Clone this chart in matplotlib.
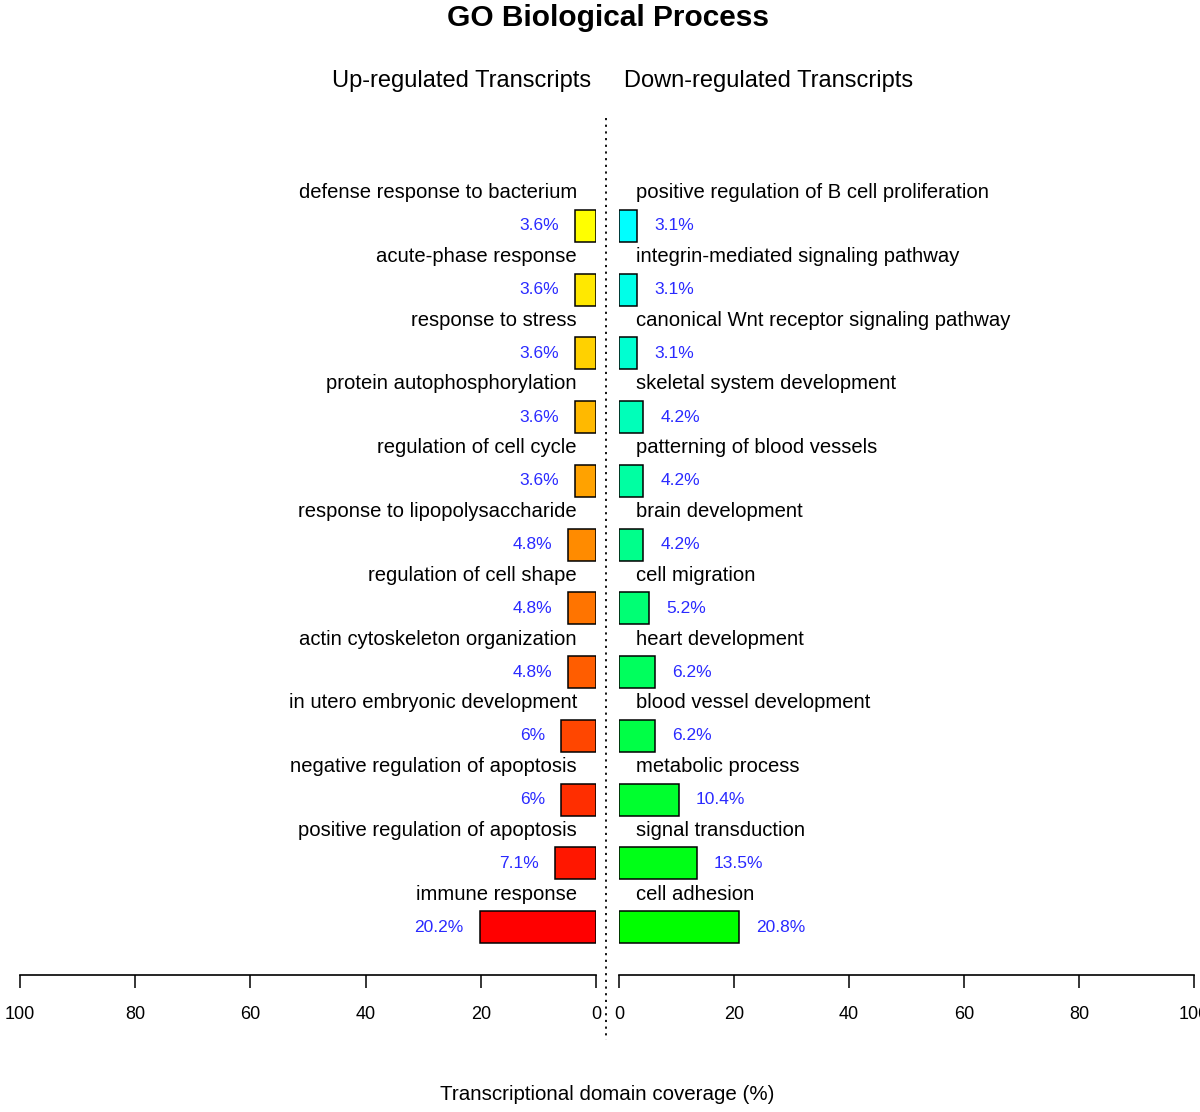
import colorsys
import matplotlib
matplotlib.use("Agg")
from matplotlib import pyplot as plt
from matplotlib.lines import Line2D

plt.rcParams['font.family'] = ['Liberation Sans', 'DejaVu Sans']

up_terms = ["defense response to bacterium", "acute-phase response", "response to stress",
            "protein autophosphorylation", "regulation of cell cycle",
            "response to lipopolysaccharide", "regulation of cell shape",
            "actin cytoskeleton organization", "in utero embryonic development",
            "negative regulation of apoptosis", "positive regulation of apoptosis",
            "immune response"]
up_values = [3.6, 3.6, 3.6, 3.6, 3.6, 4.8, 4.8, 4.8, 6, 6, 7.1, 20.2]
up_labels = ["3.6%", "3.6%", "3.6%", "3.6%", "3.6%", "4.8%", "4.8%", "4.8%",
             "6%", "6%", "7.1%", "20.2%"]

down_terms = ["positive regulation of B cell proliferation", "integrin-mediated signaling pathway",
              "canonical Wnt receptor signaling pathway", "skeletal system development",
              "patterning of blood vessels", "brain development", "cell migration",
              "heart development", "blood vessel development", "metabolic process",
              "signal transduction", "cell adhesion"]
down_values = [3.1, 3.1, 3.1, 4.2, 4.2, 4.2, 5.2, 6.2, 6.2, 10.4, 13.5, 20.8]
down_labels = ["3.1%", "3.1%", "3.1%", "4.2%", "4.2%", "4.2%", "5.2%", "6.2%",
               "6.2%", "10.4%", "13.5%", "20.8%"]

ticks = [0, 20, 40, 60, 80, 100]

W, H = 1200, 1112
fig = plt.figure(figsize=(W / 100, H / 100), dpi=100)

n = len(up_terms)
pos = list(range(n))
# rainbow hues: yellow -> red on the left, cyan -> green on the right
up_colors = [colorsys.hsv_to_rgb((60 - 60 * i / (n - 1)) / 360, 1, 1) for i in pos]
down_colors = [colorsys.hsv_to_rgb((180 - 60 * i / (n - 1)) / 360, 1, 1) for i in pos]

bottom = 1 - 975 / H
top = 1 - 150 / H
ax_l = fig.add_axes([20 / W, bottom, 576 / W, top - bottom])
ax_r = fig.add_axes([619 / W, bottom, 575 / W, top - bottom])

for ax, vals, terms, labs, cols, side in [
        (ax_l, up_values, up_terms, up_labels, up_colors, "left"),
        (ax_r, down_values, down_terms, down_labels, down_colors, "right")]:
    ax.barh(pos, vals, height=0.5, color=cols, edgecolor="black", linewidth=1.1)
    for i in pos:
        if side == "left":
            ax.text(3.3, i - 0.52, terms[i], ha="right", va="center", fontsize=14.6)
            ax.text(vals[i] + 2.8, i, labs[i], ha="right", va="center", fontsize=12.5,
                    color="#2a2aff")
        else:
            ax.text(3.0, i - 0.52, terms[i], ha="left", va="center", fontsize=14.6)
            ax.text(vals[i] + 3, i, labs[i], ha="left", va="center", fontsize=12.5,
                    color="#2a2aff")
    ax.set_ylim(11.75, -1.19)
    if side == "left":
        ax.set_xlim(100, 0)
    else:
        ax.set_xlim(0, 100)
    for s in ["top", "left", "right"]:
        ax.spines[s].set_visible(False)
    ax.spines["bottom"].set_bounds(0, 100)
    ax.spines["bottom"].set_linewidth(1.2)
    ax.set_yticks([])
    ax.set_xticks(ticks)
    ax.tick_params(axis="x", length=9, width=1.1, pad=13, labelsize=13)
    ax.patch.set_alpha(0)

fig.add_artist(Line2D([606 / W, 606 / W], [1 - 118 / H, 1 - 1040 / H],
                      transform=fig.transFigure, color="black", linestyle=(0, (1.2, 2.5)),
                      linewidth=1.3))

fig.text(608 / W, 1 - 18 / H, "GO Biological Process", ha="center", va="center",
         fontsize=21.5, fontweight="bold")
fig.text(462 / W, 1 - 81 / H, "Up-regulated Transcripts", ha="center", va="center", fontsize=17)
fig.text(769 / W, 1 - 81 / H, "Down-regulated Transcripts", ha="center", va="center", fontsize=17)
fig.text(607 / W, 1 - 1095 / H, "Transcriptional domain coverage (%)", ha="center",
         va="center", fontsize=14.8)

plt.savefig("out.png", dpi=100)
